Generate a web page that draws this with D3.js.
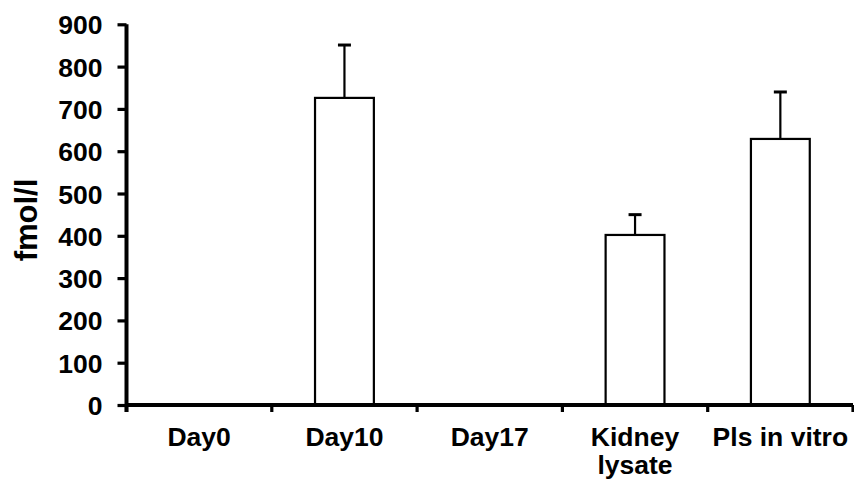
<!DOCTYPE html>
<html>
<head>
<meta charset="utf-8">
<script src="https://cdn.jsdelivr.net/npm/d3@7"></script>
<style>
  body { margin: 0; background: #fff; }
  svg text { font-family: "Liberation Sans", Arial, sans-serif; font-weight: bold; fill: #000; }
</style>
</head>
<body>
<div id="chart"></div>
<script>
// data
var categories = [["Day0"], ["Day10"], ["Day17"], ["Kidney", "lysate"], ["Pls in vitro"]];
var values = [null, 726, null, 402, 629];
var errors = [null, 125, null, 48, 111];
var yTicks = [0, 100, 200, 300, 400, 500, 600, 700, 800, 900];

var width = 854, height = 481;

var svg = d3.select('#chart').append('svg')
    .attr('width', width)
    .attr('height', height);

var keys = categories.map(function (c, i) { return i; });

var x = d3.scaleBand()
    .domain(keys)
    .range([126.5, 853])
    .paddingInner(0)
    .paddingOuter(0);

var y = d3.scaleLinear()
    .domain([0, 900])
    .range([405, 24.3]);

var barW = x.bandwidth() * 0.405;

// bars
var bars = svg.append('g');
keys.forEach(function (i) {
    if (values[i] == null) return;
    var cx = x(i) + x.bandwidth() / 2;
    var top = y(values[i]);
    var et = y(values[i] + errors[i]);
    // error bar, upper half only
    bars.append('line')
        .attr('x1', cx).attr('x2', cx)
        .attr('y1', top).attr('y2', et)
        .attr('stroke', '#000').attr('stroke-width', 2.2);
    bars.append('line')
        .attr('x1', cx - 6.5).attr('x2', cx + 6.5)
        .attr('y1', et).attr('y2', et)
        .attr('stroke', '#000').attr('stroke-width', 3);
    bars.append('rect')
        .attr('x', cx - barW / 2)
        .attr('y', top)
        .attr('width', barW)
        .attr('height', y(0) - top)
        .attr('fill', '#fff')
        .attr('stroke', '#000')
        .attr('stroke-width', 2.2);
});

// y axis
var yAxis = d3.axisLeft(y)
    .tickValues(yTicks)
    .tickSize(9)
    .tickPadding(15)
    .tickSizeOuter(0)
    .tickFormat(d3.format('d'));

var gy = svg.append('g')
    .attr('transform', 'translate(126.5,0)')
    .call(yAxis);
gy.select('.domain').attr('stroke-width', 4).attr('d', 'M0,' + y(900) + 'V' + (y(0) + 7));
gy.selectAll('.tick line').attr('stroke-width', 3.2);
gy.selectAll('.tick text')
    .style('font-size', '26.5px')
    .attr('dy', '0.36em');

// x axis
var bounds = keys.map(function (i) { return x(i); }).concat([x.range()[1]]);
var gx = svg.append('g')
    .attr('transform', 'translate(0,' + y(0) + ')');
gx.append('line')
    .attr('x1', 126.5).attr('x2', 853)
    .attr('stroke', '#000').attr('stroke-width', 4);
gx.selectAll('.xt').data(bounds).enter().append('line')
    .attr('class', 'xt')
    .attr('x1', function (d) { return d; })
    .attr('x2', function (d) { return d; })
    .attr('y1', 0).attr('y2', 7)
    .attr('stroke', '#000').attr('stroke-width', 3.2);

// one text per line so the wrapped label stays two plain lines
keys.forEach(function (i) {
    categories[i].forEach(function (line, k) {
        gx.append('text')
            .attr('text-anchor', 'middle')
            .attr('x', x(i) + x.bandwidth() / 2)
            .attr('y', 40.5 + k * 28.5)
            .style('font-size', '26.5px')
            .text(line);
    });
});

// y label
svg.append('text')
    .attr('transform', 'translate(37,220) rotate(-90)')
    .attr('text-anchor', 'middle')
    .style('font-size', '31px')
    .text('fmol/l');
</script>
</body>
</html>
